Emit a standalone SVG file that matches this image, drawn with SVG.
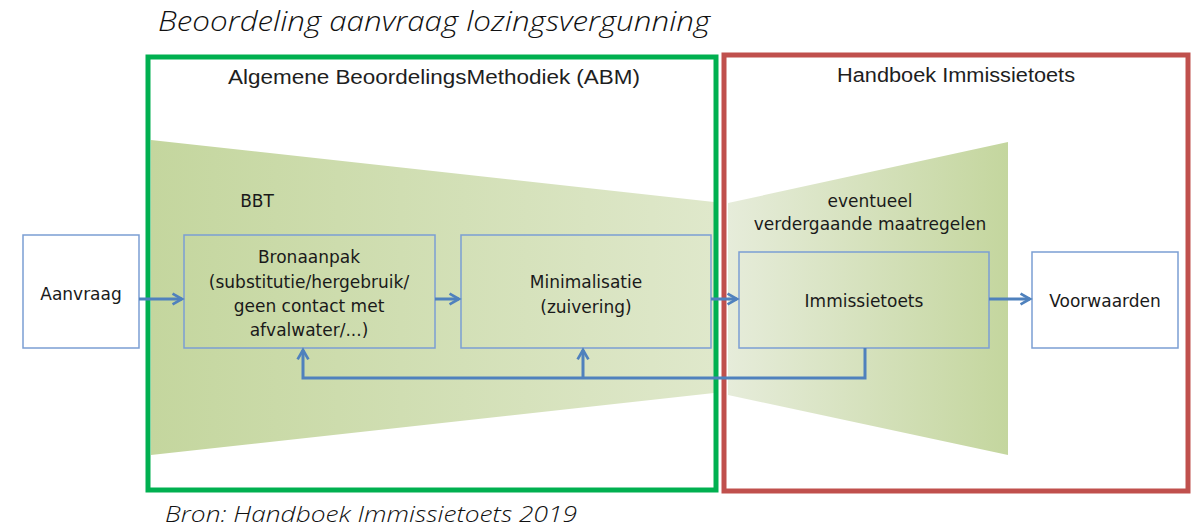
<svg xmlns="http://www.w3.org/2000/svg" width="1197" height="527" viewBox="0 0 1197 527">
<defs>
<linearGradient id="gL" x1="0" y1="0" x2="1" y2="0">
<stop offset="0" stop-color="#c4d69e"/>
<stop offset="1" stop-color="#dfe8cb"/>
</linearGradient>
<linearGradient id="gR" x1="0" y1="0" x2="1" y2="0">
<stop offset="0" stop-color="#e6ecda"/>
<stop offset="1" stop-color="#c4d69e"/>
</linearGradient>
<marker id="ah" viewBox="0 0 10 10" refX="8" refY="5" markerWidth="4.5" markerHeight="4.5" orient="auto" markerUnits="strokeWidth">
<path d="M1,1 L8,5 L1,9" fill="none" stroke="#4f81bd" stroke-width="2"/>
</marker>
<style>
.box{stroke:#7b9ed3;stroke-width:1.5}
.t{font-family:"DejaVu Sans",Verdana,sans-serif;font-size:17px;fill:#1a1a1a;text-anchor:middle}
.h{font-family:"Liberation Sans",Arial,sans-serif;font-size:20px;fill:#1e1e1e;text-anchor:middle}
.it{font-family:"Open Sans","Liberation Sans",sans-serif;font-style:italic;font-weight:300;fill:#111}
.c{fill:none;stroke:#4f81bd;stroke-width:3}
</style>
</defs>
<rect width="1197" height="527" fill="#ffffff"/>
<text class="it" x="158" y="31" font-size="27" textLength="552" lengthAdjust="spacingAndGlyphs">Beoordeling aanvraag lozingsvergunning</text>
<text class="it" x="165" y="522" font-size="22" textLength="412" lengthAdjust="spacingAndGlyphs">Bron: Handboek Immissietoets 2019</text>

<g id="trapezoids">
<polygon points="151,140 714,202 714,393 151,455" fill="url(#gL)"/>
<polygon points="728,203 1008,142 1008,455 728,395" fill="url(#gR)"/>
</g>

<g id="abm">
<rect x="148" y="57" width="568" height="433" fill="none" stroke="#00b050" stroke-width="5"/>
<text class="h" x="434" y="84" textLength="412" lengthAdjust="spacingAndGlyphs">Algemene BeoordelingsMethodiek (ABM)</text>
</g>
<g id="handboek">
<rect x="724" y="55" width="464" height="436" fill="none" stroke="#c0504d" stroke-width="5"/>
<text class="h" x="956" y="82" font-family="DejaVu Sans" textLength="238" lengthAdjust="spacingAndGlyphs">Handboek Immissietoets</text>
</g>

<g id="bbt"><text class="t" x="257" y="207">BBT</text></g>
<g id="eventueel">
<text class="t" x="870" y="207">eventueel</text>
<text class="t" x="870" y="230">verdergaande maatregelen</text>
</g>

<g id="aanvraag">
<rect class="box" x="23" y="235" width="116" height="113" fill="#ffffff"/>
<text class="t" x="81" y="300">Aanvraag</text>
</g>
<g id="bronaanpak">
<rect class="box" x="184" y="235" width="251" height="113" fill="none"/>
<text class="t" x="309" y="263">Bronaanpak</text>
<text class="t" x="309" y="288">(substitutie/hergebruik/</text>
<text class="t" x="309" y="312">geen contact met</text>
<text class="t" x="309" y="336">afvalwater/...)</text>
</g>
<g id="minimalisatie">
<rect class="box" x="461" y="235" width="250" height="113" fill="none"/>
<text class="t" x="586" y="288">Minimalisatie</text>
<text class="t" x="586" y="313">(zuivering)</text>
</g>
<g id="immissietoets">
<rect class="box" x="739" y="252" width="250" height="96" fill="none"/>
<text class="t" x="864" y="307">Immissietoets</text>
</g>
<g id="voorwaarden">
<rect class="box" x="1032" y="252" width="146" height="96" fill="#ffffff"/>
<text class="t" x="1105" y="307">Voorwaarden</text>
</g>

<g id="connectors">
<line class="c" x1="139" y1="299" x2="182" y2="299" marker-end="url(#ah)"/>
<line class="c" x1="435" y1="299" x2="459" y2="299" marker-end="url(#ah)"/>
<line class="c" x1="711" y1="299" x2="737" y2="299" marker-end="url(#ah)"/>
<line class="c" x1="989" y1="299" x2="1030" y2="299" marker-end="url(#ah)"/>
<polyline class="c" points="865,348 865,378 303,378 303,350" marker-end="url(#ah)"/>
<line class="c" x1="583" y1="378" x2="583" y2="350" marker-end="url(#ah)"/>
</g>
</svg>
